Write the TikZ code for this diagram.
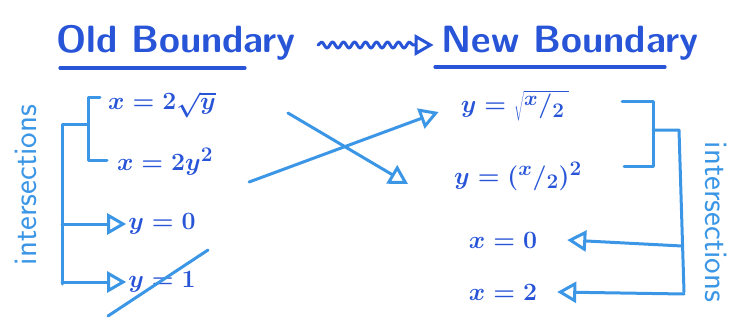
\documentclass[tikz,border=0pt]{standalone}
\usepackage{fontspec}
\usetikzlibrary{arrows.meta,decorations.pathmorphing}
\definecolor{ink}{RGB}{40,85,215}
\definecolor{pen}{RGB}{60,150,230}
\begin{document}
\begin{tikzpicture}[x=1pt,y=-1pt,
  title/.style={text=ink,font=\sffamily\bfseries\fontsize{38}{40}\selectfont,inner sep=0pt},
  eq/.style={text=ink,font=\fontsize{28}{30}\selectfont\boldmath,inner sep=0pt},
  side/.style={text=pen,font=\sffamily\fontsize{33}{35}\selectfont,inner sep=0pt},
  inkline/.style={draw=ink,line width=3.2pt,line cap=round},
  conn/.style={draw=pen,line width=3pt,line cap=round,line join=round},
  tip/.style={-{Triangle[open,length=19pt,width=21pt,line width=3pt]}}]
\useasboundingbox (0,0) rectangle (731,321);
% titles
\node[title] (old) at (176,43) {Old Boundary};
\node[title] (new) at (570,43) {New Boundary};
\draw[inkline] (60,68) -- (245,68);
\draw[inkline] (435,67) -- (665,67);
\draw[conn,draw=ink,decorate,decoration={snake,amplitude=3pt,segment length=11pt,post length=16pt},tip]
  ([xshift=22pt,yshift=-2pt]old.east) -- ([xshift=-8pt,yshift=-2pt]new.west);
% old boundary equations
\node[eq] (e1) at (162,105) {$x=2\sqrt{y}$};
\node[eq] (e2) at (165,162) {$x=2y^2$};
\node[eq] (e3) at (162,224) {$y=0$};
\node[eq] (e4) at (162,282) {$y=1$};
% new boundary equations
\node[eq] (f1) at (515,106) {$y=\sqrt{{}^{x}/_{2}\,}$};
\node[eq] (f2) at (518,176) {$y=({}^{x}/_{2})^2$};
\node[eq] (f3) at (503,240) {$x=0$};
\node[eq] (f4) at (503,292) {$x=2$};
% crossing arrows
\draw[conn,tip] ([xshift=36pt,yshift=-20pt]e2.east) -- ([xshift=-22pt,yshift=-6pt]f1.west);
\draw[conn,tip] ([xshift=72pt,yshift=-8pt]e1.east) -- ([xshift=-46pt,yshift=-8pt]f2.west);
% left bracket and tree
\coordinate (lb) at (88,124);
\draw[conn] (100,97) -- (88,97) -- (88,160) -- (107,160);
\draw[conn] (lb) -- (62,124) -- (62,284);
\draw[conn,tip] (62,224) -- ([xshift=-2pt]e3.west);
\draw[conn,tip] (62,282) -- ([xshift=-2pt]e4.west);
\draw[conn] ([xshift=-54pt,yshift=-34pt]e4.center) -- ([xshift=46pt,yshift=32pt]e4.center);
\node[side,rotate=90] (il) at (26,185) {intersections};
% right bracket and tree
\coordinate (rb) at (653,130);
\draw[conn] (622,101) -- (653,101) -- (653,166) -- (624,166);
\draw[conn] (rb) -- (679,130) -- (684,292);
\draw[conn,tip] (682,246) -- ([xshift=30pt]f3.east);
\draw[conn,tip] (684,294) -- ([xshift=20pt]f4.east);
\node[side,rotate=-90] (ir) at (716,222) {intersections};
\end{tikzpicture}
\end{document}
